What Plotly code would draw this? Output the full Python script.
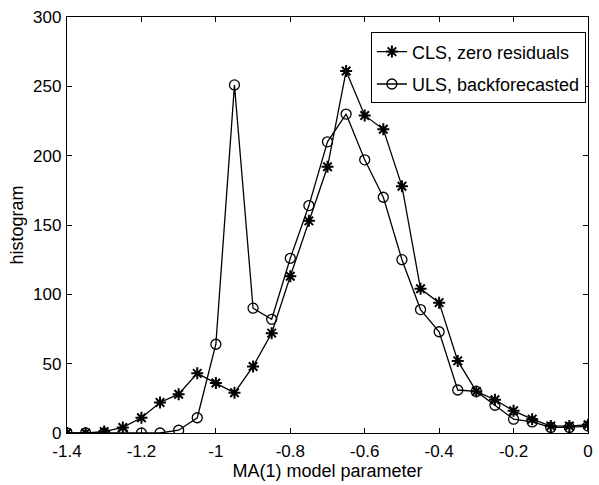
import plotly.graph_objects as go

x_vals = [-1.4, -1.35, -1.3, -1.25, -1.2, -1.15, -1.1, -1.05, -1.0, -0.95, -0.9, -0.85, -0.8, -0.75,
          -0.7, -0.65, -0.6, -0.55, -0.5, -0.45, -0.4, -0.35, -0.3, -0.25, -0.2, -0.15, -0.1, -0.05, 0.0]
cls_zero = [0, 0, 1, 4, 11, 22, 28, 43, 36, 29, 48, 72, 113, 153,
            192, 261, 229, 219, 178, 104, 94, 52, 30, 24, 16, 10, 5, 5, 6]
uls_back = [0, 0, 0, 0, 0, 0, 2, 11, 64, 251, 90, 82, 126, 164,
            210, 230, 197, 170, 125, 89, 73, 31, 30, 20, 10, 8, 4, 4, 5]
x_ticks = [-1.4, -1.2, -1.0, -0.8, -0.6, -0.4, -0.2, 0.0]
x_tick_text = ["-1.4", "-1.2", "-1", "-0.8", "-0.6", "-0.4", "-0.2", "0"]
y_ticks = [0, 50, 100, 150, 200, 250, 300]

FONT = "Liberation Sans, Arial, sans-serif"

fig = go.Figure()
fig.add_trace(go.Scatter(
    x=x_vals, y=cls_zero, mode="lines+markers", name="CLS, zero residuals",
    legendgroup="a",
    line=dict(color="black", width=1.3),
    marker=dict(symbol="asterisk-open", size=10, color="black", line=dict(color="black", width=2)),
))
fig.add_trace(go.Scatter(
    x=x_vals, y=uls_back, mode="lines+markers", name="ULS, backforecasted",
    legendgroup="b",
    line=dict(color="black", width=1.3),
    marker=dict(symbol="circle-open", size=10, color="black", line=dict(color="black", width=1.3)),
))

axis_common = dict(
    showgrid=False, zeroline=False, showline=True, linecolor="black", linewidth=1.3,
    mirror="ticks", ticks="inside", ticklen=5, tickcolor="black", tickwidth=1,
    tickfont=dict(family=FONT, size=17, color="black"),
)
fig.update_layout(
    width=599, height=485,
    margin=dict(l=67, r=6, t=17, b=52),
    paper_bgcolor="white", plot_bgcolor="white",
    font=dict(family=FONT, color="black"),
    xaxis=dict(range=[-1.4, 0], tickvals=x_ticks, ticktext=x_tick_text, ticklabelstandoff=2,
               title=dict(text="MA(1) model parameter", font=dict(size=18), standoff=1), **axis_common),
    yaxis=dict(range=[0, 300], tickvals=y_ticks, ticklabelstandoff=1,
               title=dict(text="histogram", font=dict(size=18), standoff=4), **axis_common),
    legend=dict(x=0.996, y=0.963, xanchor="right", yanchor="top",
                bgcolor="white", bordercolor="black", borderwidth=1,
                font=dict(size=18, color="black"), tracegroupgap=6),
    showlegend=True,
)
fig.write_html("out.html", config={"displayModeBar": False},
               post_script="document.body.style.margin='0';")
